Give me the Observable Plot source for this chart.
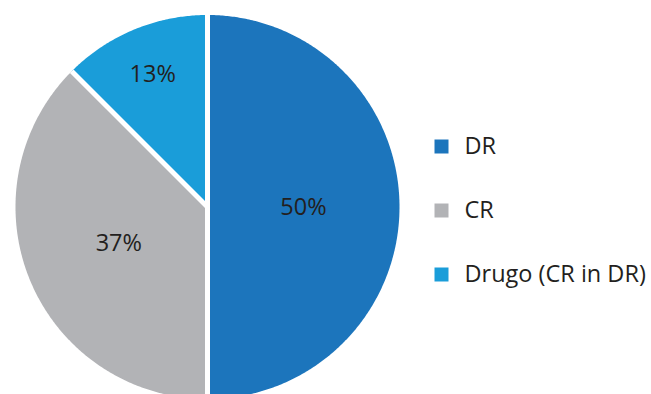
<!DOCTYPE html>
<html>
<head>
<meta charset="utf-8">
<script src="https://cdn.jsdelivr.net/npm/d3@7"></script>
<script src="https://cdn.jsdelivr.net/npm/@observablehq/plot@0.6"></script>
<style>
  html, body { margin: 0; padding: 0; background: #fff; }
  #chart svg { display: block; }
</style>
</head>
<body>
<div id="chart"></div>
<script>
// ---- data ----
const categories = ["DR", "CR", "Drugo (CR in DR)"];
const shares = [50, 37.5, 12.5];
const labels = ["50%", "37%", "13%"];     // as printed on the chart
const colors = ["#1c75bc", "#b2b3b6", "#1a9dd9"];

// ---- layout ----
const W = 651, H = 394;
const cx = 207, cy = 206.5, R = 192;   // pie centre & radius in px
const unit = R;                         // px per data unit

const total = d3.sum(shares);
// clockwise from 12 o'clock
let acc = 0;
const slices = categories.map((c, i) => {
  const a0 = acc / total * 2 * Math.PI;
  acc += shares[i];
  const a1 = acc / total * 2 * Math.PI;
  return {key: c, value: shares[i], label: labels[i], a0, a1};
});

// polygons for the wedges
const pts = [];
for (const s of slices) {
  pts.push({key: s.key, x: 0, y: 0});
  const n = Math.max(2, Math.ceil((s.a1 - s.a0) / (Math.PI / 360)));
  for (let k = 0; k <= n; k++) {
    const a = s.a0 + (s.a1 - s.a0) * k / n;
    pts.push({key: s.key, x: Math.sin(a), y: Math.cos(a)});
  }
}

// separators
const seps = slices.map(s => ({x1: 0, y1: 0, x2: Math.sin(s.a0), y2: Math.cos(s.a0)}));

// slice labels (small slices pushed outward)
const lab = slices.map(s => {
  const m = (s.a0 + s.a1) / 2;
  const r = s.value / total < 0.2 ? 0.745 : 0.5;
  return {label: s.label, x: r * Math.sin(m), y: r * Math.cos(m)};
});

// legend rows
const legX = (441 - cx) / unit, legY0 = (cy - 146) / unit, legStep = 64 / unit;
const legend = categories.map((c, i) => ({key: c, x: legX, y: legY0 - i * legStep}));

const plot = Plot.plot({
  width: W, height: H,
  margin: 0,
  style: {background: "#fff"},
  x: {domain: [-cx / unit, (W - cx) / unit], range: [0, W], axis: null},
  y: {domain: [(cy - H) / unit, cy / unit], range: [H, 0], axis: null},
  color: {domain: categories, range: colors},
  marks: [
    Plot.line(pts, {x: "x", y: "y", z: "key", fill: "key", stroke: "none", curve: "linear-closed"}),
    Plot.link(seps, {x1: "x1", y1: "y1", x2: "x2", y2: "y2", stroke: "#fff", strokeWidth: 5, strokeLinecap: "butt"}),
    Plot.text(lab, {x: "x", y: "y", text: "label", fill: "#231f20", fontSize: 23.5, fontFamily: "Open Sans", textAnchor: "middle", lineAnchor: "middle"}),
    Plot.dot(legend, {x: "x", y: "y", fill: "key", symbol: "square", r: 7.9, stroke: "none"}),
    Plot.text(legend, {x: "x", y: "y", text: "key", dx: 23, fill: "#231f20", fontSize: 23.5, fontFamily: "Open Sans", textAnchor: "start", lineAnchor: "middle"})
  ]
});
document.getElementById("chart").appendChild(plot);
</script>
</body>
</html>
